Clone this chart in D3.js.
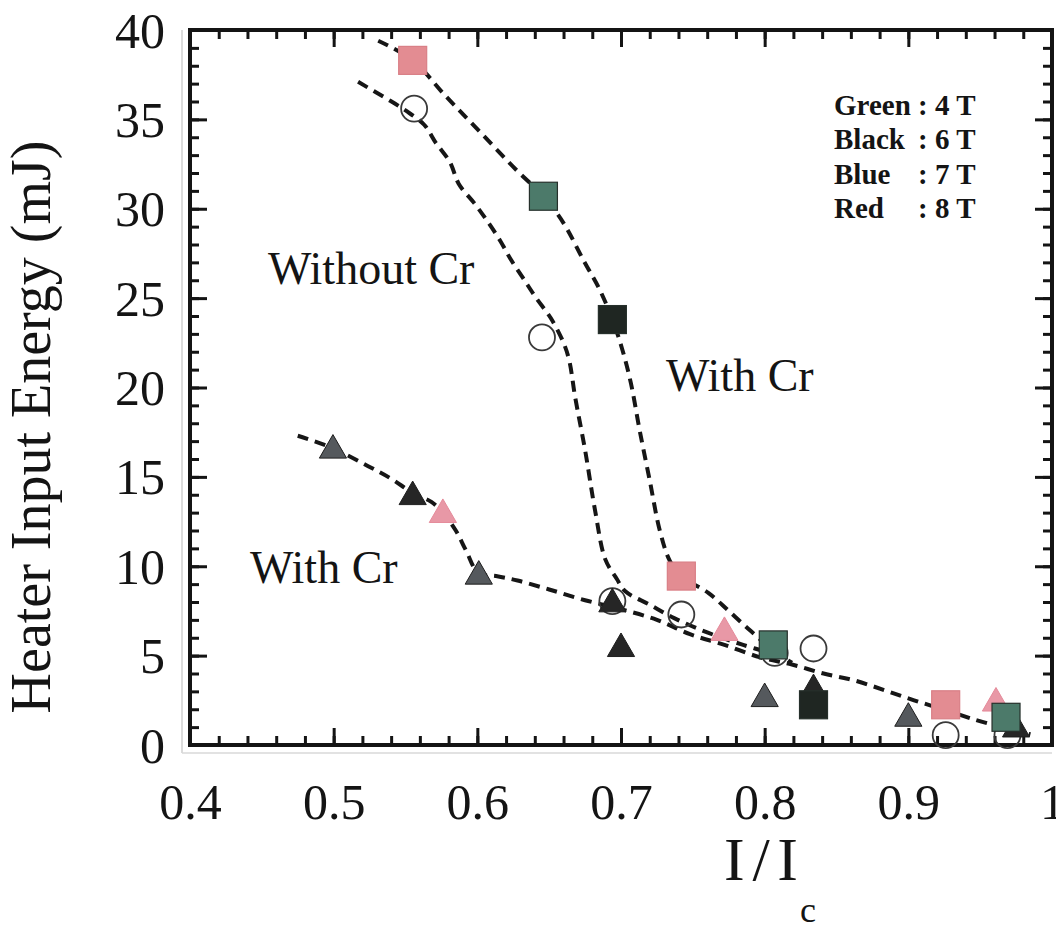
<!DOCTYPE html>
<html>
<head>
<meta charset="utf-8">
<script src="https://cdn.jsdelivr.net/npm/d3@7"></script>
<style>
  html, body { margin: 0; padding: 0; background: #fff; }
  svg { display: block; }
  text { font-family: "Liberation Serif", "DejaVu Serif", serif; fill: #141414; }
</style>
</head>
<body>
<svg id="chart" width="1056" height="932"></svg>
<script>
// ---- axis ticks ----
const xTicks = [0.4, 0.5, 0.6, 0.7, 0.8, 0.9, 1.0];
const xTickLabels = ["0.4", "0.5", "0.6", "0.7", "0.8", "0.9", "1"];
const yTicks = [0, 5, 10, 15, 20, 25, 30, 35, 40];

// ---- magnetic field key ----
const fieldNames = ["Green", "Black", "Blue", "Red"];
const fieldValues = ["4 T", "6 T", "7 T", "8 T"];

// ---- squares: with Cr ----
const squareX = [0.555, 0.646, 0.694, 0.742, 0.806, 0.834, 0.926, 0.968];
const squareY = [38.3, 30.7, 23.8, 9.45, 5.6, 2.25, 2.25, 1.55];
const squareField = ["red", "green", "black", "red", "green", "black", "red", "green"];

// ---- open circles: without Cr ----
const circleX = [0.556, 0.645, 0.694, 0.742, 0.807, 0.834, 0.926, 0.969];
const circleY = [35.6, 22.8, 8.05, 7.3, 5.15, 5.4, 0.55, 0.55];

// ---- triangles: with Cr ----
const triX = [0.4995, 0.555, 0.576, 0.601, 0.694, 0.700, 0.772, 0.800, 0.834, 0.900, 0.961, 0.975];
const triY = [16.6, 14.0, 13.0, 9.55, 8.0, 5.5, 6.4, 2.7, 3.2, 1.6, 2.45, 1.0];
const triField = ["blue", "black", "red", "blue", "black", "black", "red", "blue", "black", "blue", "red", "black"];

// ---- dashed guide curves [I/Ic, mJ] ----
const guideSquares = [
  [0.531, 39.4], [0.555, 38.3], [0.578, 36.3], [0.603, 34.2], [0.628, 32.1], [0.646, 30.7],
  [0.660, 29.2], [0.674, 27.1], [0.685, 25.5], [0.694, 23.8], [0.701, 22.1], [0.707, 20.2],
  [0.713, 17.6], [0.720, 14.8], [0.727, 12.0], [0.734, 10.3], [0.742, 9.45], [0.761, 8.5],
  [0.775, 7.5], [0.790, 6.4], [0.806, 5.3], [0.819, 4.6]
];
const guideCircles = [
  [0.517, 37.1], [0.536, 36.2], [0.550, 35.5], [0.563, 34.7], [0.571, 33.7], [0.581, 32.6],
  [0.587, 31.4], [0.598, 30.3], [0.607, 29.3], [0.616, 28.2], [0.623, 27.2], [0.632, 26.1],
  [0.641, 25.0], [0.651, 23.9], [0.660, 22.5], [0.664, 21.5], [0.668, 19.5], [0.675, 16.5],
  [0.682, 13.1], [0.689, 10.4], [0.697, 9.3], [0.703, 8.6], [0.720, 7.85], [0.737, 7.1],
  [0.760, 6.3], [0.785, 5.6], [0.806, 5.1]
];
const guideTriangles = [
  [0.475, 17.3], [0.4995, 16.6], [0.524, 15.6], [0.540, 14.9], [0.555, 14.1], [0.568, 13.6],
  [0.576, 13.0], [0.585, 12.0], [0.592, 10.9], [0.601, 9.6], [0.613, 9.45], [0.628, 9.2],
  [0.650, 8.7], [0.675, 8.1], [0.700, 7.6], [0.725, 7.0], [0.748, 6.2], [0.772, 5.6],
  [0.797, 4.9], [0.819, 4.5], [0.841, 4.0], [0.863, 3.6], [0.884, 3.05], [0.904, 2.5],
  [0.926, 1.95], [0.947, 1.4], [0.965, 1.0], [0.985, 0.6]
];

// ---- drawing ----
const fieldColor = { green: "#4c7a6a", black: "#1f2622", blue: "#55595d", red: "#e38c92" };
const triColor = { green: "#4c7a6a", black: "#262626", blue: "#55595d", red: "#e898a6" };

const svg = d3.select("#chart");
const plotL = 190, plotR = 1052, plotT = 30, plotB = 745;

const x = d3.scaleLinear().domain([0.4, 1.0]).range([plotL, plotR]);
const y = d3.scaleLinear().domain([0, 40]).range([plotB, plotT]);

// faint scan double-lines just outside the frame
svg.append("line").attr("x1", plotL - 8).attr("x2", plotL - 8).attr("y1", plotT).attr("y2", plotB + 8)
  .attr("stroke", "#cfcfcf").attr("stroke-width", 1.5);
svg.append("line").attr("x1", plotL - 8).attr("x2", plotR).attr("y1", plotB + 8).attr("y2", plotB + 8)
  .attr("stroke", "#d8d8d8").attr("stroke-width", 1.5);

const xMinor = d3.range(0, 31).map(i => 0.4 + i * 0.02);
const yMinor = d3.range(0, 41);

function styleAxis(g) {
  g.select(".domain").remove();
  g.selectAll(".tick line").attr("stroke", "#141414").attr("stroke-width", 3);
}

// minor ticks, all four sides, pointing inward
svg.append("g").attr("transform", `translate(0,${plotB})`)
  .call(d3.axisBottom(x).tickValues(xMinor).tickSize(-9).tickFormat("")).call(styleAxis);
svg.append("g").attr("transform", `translate(0,${plotT})`)
  .call(d3.axisTop(x).tickValues(xMinor).tickSize(-9).tickFormat("")).call(styleAxis);
svg.append("g").attr("transform", `translate(${plotL},0)`)
  .call(d3.axisLeft(y).tickValues(yMinor).tickSize(-9).tickFormat("")).call(styleAxis);
svg.append("g").attr("transform", `translate(${plotR},0)`)
  .call(d3.axisRight(y).tickValues(yMinor).tickSize(-9).tickFormat("")).call(styleAxis);

// major ticks with labels
const gx = svg.append("g").attr("transform", `translate(0,${plotB})`)
  .call(d3.axisBottom(x).tickValues(xTicks).tickSize(-17).tickPadding(38)
    .tickFormat((d, i) => xTickLabels[i]))
  .call(styleAxis);
gx.selectAll("text").attr("font-size", 50).attr("font-family", "Liberation Serif").attr("fill", "#141414");

const gy = svg.append("g").attr("transform", `translate(${plotL},0)`)
  .call(d3.axisLeft(y).tickValues(yTicks).tickSize(-17).tickPadding(25).tickFormat(d3.format("d")))
  .call(styleAxis);
gy.selectAll("text").attr("font-size", 50).attr("font-family", "Liberation Serif").attr("fill", "#141414")
  .attr("dy", "0.34em");

svg.append("g").attr("transform", `translate(0,${plotT})`)
  .call(d3.axisTop(x).tickValues(xTicks).tickSize(-17).tickFormat("")).call(styleAxis);
svg.append("g").attr("transform", `translate(${plotR},0)`)
  .call(d3.axisRight(y).tickValues(yTicks).tickSize(-17).tickFormat("")).call(styleAxis);

// frame
svg.append("rect").attr("x", plotL).attr("y", plotT).attr("width", plotR - plotL).attr("height", plotB - plotT)
  .attr("fill", "none").attr("stroke", "#141414").attr("stroke-width", 4);

// dashed guide curves
const line = d3.line().x(d => x(d[0])).y(d => y(d[1])).curve(d3.curveCatmullRom.alpha(0.5));
[guideSquares, guideCircles, guideTriangles].forEach(pts => {
  svg.append("path").attr("d", line(pts)).attr("fill", "none")
    .attr("stroke", "#161616").attr("stroke-width", 4)
    .attr("stroke-dasharray", "11,7").attr("stroke-linecap", "butt");
});

// open circles
svg.append("g").selectAll("circle").data(circleX.map((v, i) => [v, circleY[i]])).join("circle")
  .attr("cx", d => x(d[0])).attr("cy", d => y(d[1])).attr("r", 13)
  .attr("fill", "none").attr("stroke", "#3a3a3a").attr("stroke-width", 1.8);

// triangles
const triSym = d3.symbol().type(d3.symbolTriangle).size(320);
svg.append("g").selectAll("path").data(triX.map((v, i) => [v, triY[i], triField[i]])).join("path")
  .attr("d", triSym)
  .attr("transform", d => `translate(${x(d[0])},${y(d[1]) + 2})`)
  .attr("fill", d => triColor[d[2]]).attr("stroke", d => d[2] === "red" ? "#e58a9a" : "#1e1e1e")
  .attr("stroke-width", 1);

// squares
const sq = 28;
svg.append("g").selectAll("rect").data(squareX.map((v, i) => [v, squareY[i], squareField[i]])).join("rect")
  .attr("x", d => x(d[0]) - sq / 2).attr("y", d => y(d[1]) - sq / 2)
  .attr("width", sq).attr("height", sq)
  .attr("fill", d => fieldColor[d[2]])
  .attr("stroke", d => d[2] === "red" ? "#d97f86" : "#26302b").attr("stroke-width", 1.2);

// curve annotations
const notes = [
  { t: "Without Cr", x: 268, y: 284 },
  { t: "With Cr", x: 666, y: 391 },
  { t: "With Cr", x: 250, y: 583 }
];
svg.append("g").selectAll("text").data(notes).join("text")
  .attr("x", d => d.x).attr("y", d => d.y).attr("font-size", 46).text(d => d.t);

// field key
const key = svg.append("g").attr("font-weight", "bold").attr("font-size", 29);
key.selectAll("text.name").data(fieldNames).join("text").attr("class", "name")
  .attr("x", 834).attr("y", (d, i) => 115 + i * 34.3).text(d => d);
key.selectAll("text.val").data(fieldValues).join("text").attr("class", "val")
  .attr("x", 918).attr("y", (d, i) => 115 + i * 34.3).text(d => ": " + d);

// axis titles
svg.append("text").attr("x", 724).attr("y", 880).attr("font-size", 62)
  .attr("textLength", 74).attr("lengthAdjust", "spacing").text("I/I");
svg.append("text").attr("x", 800).attr("y", 922).attr("font-size", 36).text("c");

svg.append("text").attr("transform", "translate(50,427) rotate(-90)")
  .attr("text-anchor", "middle").attr("font-size", 56)
  .text("Heater Input Energy (mJ)");
</script>
</body>
</html>
